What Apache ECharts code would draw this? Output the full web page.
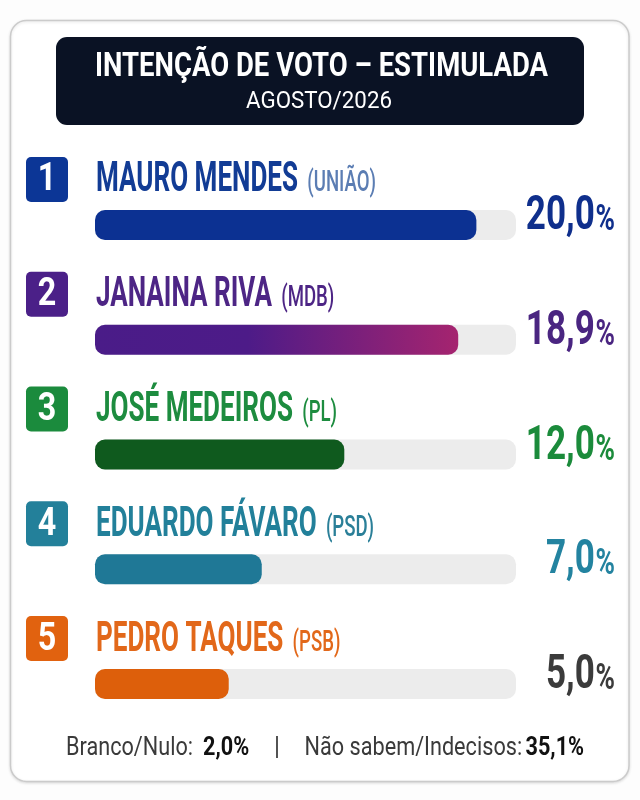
<!DOCTYPE html>
<html>
<head>
<meta charset="utf-8">
<script src="https://cdn.jsdelivr.net/npm/echarts@6/dist/echarts.min.js"></script>
<style>
html,body{margin:0;padding:0;background:#fdfdfd;}
#chart{width:640px;height:800px;}
</style>
</head>
<body>
<div id="chart"></div>
<script>
// ---- data ----
const ranks = ['1', '2', '3', '4', '5'];
const names = ['MAURO MENDES', 'JANAINA RIVA', 'JOSÉ MEDEIROS', 'EDUARDO FÁVARO', 'PEDRO TAQUES'];
const parties = ['(UNIÃO)', '(MDB)', '(PL)', '(PSD)', '(PSB)'];
const values = [20.0, 18.9, 12.0, 7.0, 5.0];
const titleText = 'INTENÇÃO DE VOTO – ESTIMULADA';
const subtitleText = 'AGOSTO/2026';
const brancoNulo = 2.0;
const indecisos = 35.1;

// ---- styles ----
const FONT = "Roboto, 'DejaVu Sans Condensed', sans-serif";
const boxColors = ['#0c3696', '#4b2088', '#1b8b3d', '#23809a', '#e1620f'];
const nameColors = ['#123c95', '#4d2585', '#1d8c3f', '#22809a', '#e2681a'];
const partyColors = ['#5b7db3', '#4d2585', '#1d8c3f', '#2a7f98', '#e2681a'];
const valueColors = ['#0f2f8c', '#4a2581', '#1b8b3b', '#2383a0', '#3b3b3b'];
const barColors = [
  '#0c3192',
  new echarts.graphic.LinearGradient(0, 0, 1, 0, [
    {offset: 0, color: '#4a1c88'}, {offset: 0.42, color: '#4d1b88'}, {offset: 1, color: '#a5246f'}
  ]),
  '#0f5a1e', '#1f7896', '#dd5f0b'
];
const X_MIN = -3.1, X_MAX = 22.4;

const fmt = v => v.toFixed(1).replace('.', ',');

// text measuring, used to condense Roboto to the narrow look of the reference
const mctx = document.createElement('canvas').getContext('2d');
function tw(text, weight, size) {
  mctx.font = weight + ' ' + size + 'px ' + FONT;
  return mctx.measureText(text).width;
}
const NAME_SIZE = 42, PARTY_SIZE = 30, VAL_SIZE = 48, PCT_SIZE = 36, RANK_SIZE = 38;
const TITLE_SIZE = 34, SUB_SIZE = 24, FOOT_SIZE = 26;
const nameScale = 202 / tw('MAURO MENDES', 'bold', NAME_SIZE);
const valScale = 69 / tw('20,0', 'bold', VAL_SIZE);
const titleScale = 453 / tw(titleText, 'bold', TITLE_SIZE);
const subScale = 146 / tw(subtitleText, 'normal', SUB_SIZE);
const footScale = 127 / tw('Branco/Nulo:', 'normal', FOOT_SIZE);
const rankScale = 0.85;

const chart = echarts.init(document.getElementById('chart'), null, {renderer: 'canvas'});

function renderItem(params, api) {
  const v = api.value(0);
  const i = api.value(1);
  const start = api.coord([X_MIN, i]);
  const end = api.coord([v, i]);
  const full = api.coord([X_MAX, i]);
  const cy = start[1];
  const x0 = start[0];
  const barH = 30;
  return {
    type: 'group',
    children: [
      {type: 'rect', shape: {x: x0, y: cy - barH / 2, width: full[0] - x0, height: barH, r: 10},
        style: {fill: '#ececec'}},
      {type: 'rect', shape: {x: x0, y: cy - barH / 2, width: end[0] - x0, height: barH, r: 10},
        style: {fill: barColors[i]}},
      {type: 'rect', shape: {x: x0 - 69, y: cy - 68, width: 42, height: 45, r: 5},
        style: {fill: boxColors[i]}},
      {type: 'text', x: x0 - 48, y: cy - 44, scaleX: rankScale,
        style: {text: ranks[i], fill: '#fff', font: 'bold ' + RANK_SIZE + 'px ' + FONT, align: 'center', verticalAlign: 'middle'}},
      {type: 'text', x: x0 + 1, y: cy - 44, scaleX: nameScale,
        style: {
          text: '{n|' + names[i] + '}{p|' + parties[i] + '}',
          verticalAlign: 'middle', align: 'left',
          rich: {
            n: {fontFamily: FONT, fontWeight: 'bold', fontSize: NAME_SIZE, fill: nameColors[i], verticalAlign: 'bottom'},
            p: {fontFamily: FONT, fontWeight: 500, fontSize: PARTY_SIZE, fill: partyColors[i], verticalAlign: 'bottom', padding: [0, 0, 3, 15]}
          }
        }},
      {type: 'text', x: full[0] + 99, y: cy - 8, scaleX: valScale,
        style: {
          text: '{v|' + fmt(v) + '}{pc|%}',
          align: 'right', verticalAlign: 'middle',
          rich: {
            v: {fontFamily: FONT, fontWeight: 'bold', fontSize: VAL_SIZE, fill: valueColors[i], verticalAlign: 'bottom'},
            pc: {fontFamily: FONT, fontWeight: 'bold', fontSize: PCT_SIZE, fill: valueColors[i], verticalAlign: 'bottom', padding: [0, 0, 2, 1]}
          }
        }}
    ]
  };
}

const footRich = {
  l: {fontFamily: FONT, fontSize: FOOT_SIZE, fill: '#3a3a3a'},
  b1: {fontFamily: FONT, fontSize: FOOT_SIZE, fontWeight: 'bold', fill: '#111111', padding: [0, 0, 0, 12]},
  b2: {fontFamily: FONT, fontSize: FOOT_SIZE, fontWeight: 'bold', fill: '#111111', padding: [0, 0, 0, 4]},
  s: {fontFamily: FONT, fontSize: FOOT_SIZE, fontWeight: 'bold', fill: '#444444', padding: [0, 30, 0, 30]}
};

const option = {
  backgroundColor: '#fdfdfd',
  animation: false,
  grid: {left: 95, right: 124, top: 167.6, bottom: 58.6, containLabel: false},
  xAxis: {type: 'value', min: X_MIN, max: X_MAX, show: false},
  yAxis: {type: 'category', data: names, inverse: true, show: false},
  graphic: [
    {type: 'rect', z: -10, shape: {x: 10.5, y: 20.5, width: 618.5, height: 761, r: 16},
      style: {fill: '#ffffff', stroke: '#cbcbcb', lineWidth: 1.5, shadowBlur: 3, shadowColor: 'rgba(0,0,0,0.12)', shadowOffsetY: 1}},
    {type: 'rect', z: -5, shape: {x: 56, y: 37, width: 528, height: 88, r: 11},
      style: {fill: '#0a1224'}},
    {type: 'text', x: 321.5, y: 67.5, z: -4, scaleX: titleScale,
      style: {text: titleText, fill: '#ffffff', font: 'bold ' + TITLE_SIZE + 'px ' + FONT, align: 'center', verticalAlign: 'middle'}},
    {type: 'text', x: 319, y: 102, z: -4, scaleX: subScale,
      style: {text: subtitleText, fill: '#ffffff', font: 'normal ' + SUB_SIZE + 'px ' + FONT, align: 'center', verticalAlign: 'middle'}},
    {type: 'text', x: 66, y: 748, z: -4, scaleX: footScale,
      style: {
        text: '{l|Branco/Nulo:}{b1|' + fmt(brancoNulo) + '%}{s||}{l|Não sabem/Indecisos:}{b2|' + fmt(indecisos) + '%}',
        align: 'left', verticalAlign: 'middle',
        rich: footRich
      }}
  ],
  series: [{
    type: 'custom',
    renderItem: renderItem,
    encode: {x: 0, y: 1},
    data: values.map((v, i) => [v, i])
  }]
};
chart.setOption(option);
</script>
</body>
</html>
